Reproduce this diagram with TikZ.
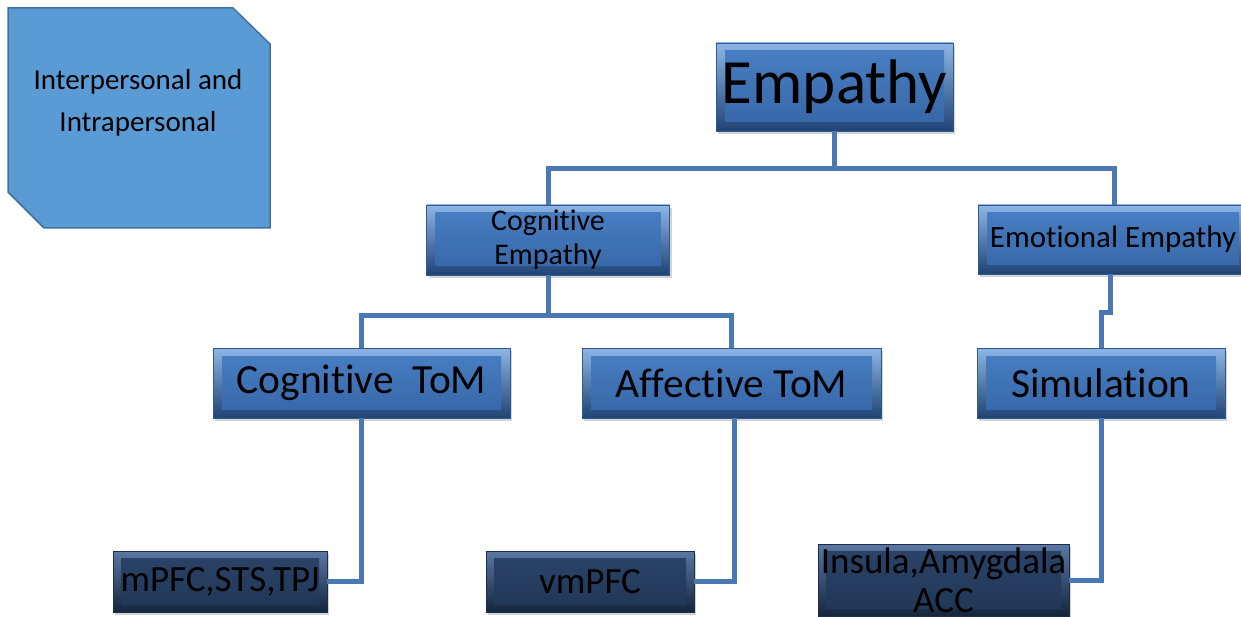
\documentclass[tikz,border=0pt]{standalone}
\usepackage{fontspec}
\setmainfont{Carlito}[Ligatures={NoCommon}, RawFeature={-liga;-clig;-calt}]
\usetikzlibrary{shadows}
\definecolor{polyfill}{HTML}{5B9BD5}
\definecolor{polyedge}{HTML}{41719C}
\definecolor{btop}{HTML}{8DB6E6}
\definecolor{bbot}{HTML}{1F4375}
\definecolor{bmidtop}{HTML}{4A80C4}
\definecolor{bmidbot}{HTML}{3565A6}
\definecolor{bedge}{HTML}{2E5A8E}
\definecolor{dtop}{HTML}{5A78A3}
\definecolor{dbot}{HTML}{14253D}
\definecolor{dmidtop}{HTML}{2A4468}
\definecolor{dmidbot}{HTML}{203656}
\definecolor{dedge}{HTML}{1A2E4A}
\definecolor{conn}{HTML}{4A78B2}
\tikzset{
  x=1pt, y=-1pt,
  bluebox/.style={draw=bedge, line width=0.8pt, top color=btop, bottom color=bbot,
    inner sep=0pt, align=center, text=black,
    drop shadow={shadow xshift=2pt, shadow yshift=-3pt, opacity=0.35},
    path picture={\shade[top color=bmidtop, bottom color=bmidbot]
      ([shift={(9pt,-8pt)}]path picture bounding box.north west) rectangle
      ([shift={(-9pt,9pt)}]path picture bounding box.south east);}},
  darkbox/.style={draw=dedge, line width=0.8pt, top color=dtop, bottom color=dbot,
    inner sep=0pt, align=center, text=black,
    drop shadow={shadow xshift=2pt, shadow yshift=-3pt, opacity=0.35},
    path picture={\shade[top color=dmidtop, bottom color=dmidbot]
      ([shift={(8pt,-7pt)}]path picture bounding box.north west) rectangle
      ([shift={(-8pt,8pt)}]path picture bounding box.south east);}},
  link/.style={draw=conn, line width=5pt},
}
\begin{document}
\begin{tikzpicture}
\useasboundingbox (0,0) rectangle (1241,617);
% polygon box
\filldraw[fill=polyfill, draw=polyedge, line width=1.5pt]
  (8,8) -- (233,8) -- (270,44) -- (270,228) -- (44,228) -- (8,192) -- cycle;
\node[align=center, font=\fontsize{29}{42}\selectfont] (inter) at (138,103)
  {Interpersonal and\\Intrapersonal};

% blue boxes
\node[bluebox, minimum width=237pt, minimum height=88pt,
  font=\fontsize{63}{65}\selectfont] (emp) at (834.5,87) {Empathy};
\node[bluebox, minimum width=243pt, minimum height=70pt,
  font=\fontsize{30}{34}\selectfont] (cogemp) at (548,240) {Cognitive\\Empathy};
\node[bluebox, minimum width=270pt, minimum height=69pt,
  font=\fontsize{31}{34}\selectfont] (emoemp) at (1113,239.5) {Emotional Empathy};
\node[bluebox, minimum width=297pt, minimum height=70pt,
  font=\fontsize{41.5}{44}\selectfont] (ctom) at (361.5,383) {Cognitive\ \ ToM};
\node[bluebox, minimum width=299pt, minimum height=70pt,
  font=\fontsize{41.5}{44}\selectfont] (atom) at (731.5,383) {Affective ToM};
\node[bluebox, minimum width=248pt, minimum height=70pt,
  font=\fontsize{41.5}{44}\selectfont] (sim) at (1101,383) {Simulation};

% dark boxes
\node[darkbox, minimum width=214pt, minimum height=61pt,
  font=\fontsize{37}{40}\selectfont] (mpfc) at (220,581.5) {mPFC,STS,TPJ};
\node[darkbox, minimum width=208pt, minimum height=61pt,
  font=\fontsize{37}{40}\selectfont] (vmpfc) at (590,581.5) {vmPFC};
\node[darkbox, minimum width=251pt, minimum height=72pt,
  font=\fontsize{37}{39}\selectfont] (ins) at (943.5,580) {Insula,Amygdala\\ACC};

% connectors
\draw[link] (emp.south) -- ++(0,37) coordinate (j1) -| (cogemp.north);
\draw[link] (j1) -| ([xshift=1pt]emoemp.north);
\draw[link] (cogemp.south) -- ++(0,40) coordinate (j2) -| (ctom.north);
\draw[link] (j2) -| (atom.north);
\draw[link] ([xshift=-3pt]emoemp.south) -- ++(0,38) -| (sim.north);
\draw[link] (ctom.south) |- (mpfc.east);
\draw[link] ([xshift=3pt]atom.south) |- (vmpfc.east);
\draw[link] (sim.south) |- (ins.east);
\end{tikzpicture}
\end{document}
